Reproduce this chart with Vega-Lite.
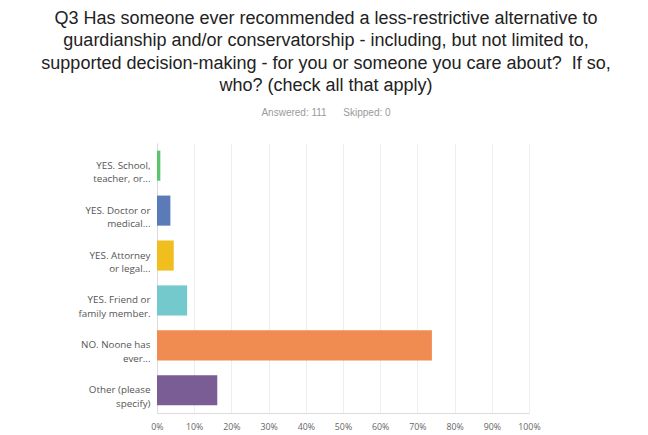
{
  "$schema": "https://vega.github.io/schema/vega-lite/v6.json",
  "autosize": {"type": "none"},
  "width": 372,
  "height": 270,
  "padding": {"left": 157, "top": 143, "right": 119, "bottom": 22},
  "background": "white",
  "title": {
    "text": ["Q3 Has someone ever recommended a less-restrictive alternative to", "guardianship and/or conservatorship - including, but not limited to,", "supported decision-making - for you or someone you care about?\u00a0\u00a0If so,", "who? (check all that apply)"],
    "subtitle": "\u00a0\u00a0\u00a0\u00a0\u00a0\u00a0\u00a0\u00a0\u00a0\u00a0\u00a0\u00a0\u00a0\u00a0Answered: 111\u00a0\u00a0\u00a0\u00a0\u00a0\u00a0Skipped: 0",
    "anchor": "middle",
    "frame": "group",
    "dx": -17,
    "offset": 25,
    "font": "Liberation Sans",
    "fontSize": 18,
    "fontWeight": "normal",
    "lineHeight": 22.5,
    "color": "#222222",
    "subtitleFont": "Liberation Sans",
    "subtitleFontSize": 10,
    "subtitleColor": "#9a9a9a",
    "subtitlePadding": 13
  },
  "data": {
    "values": [
      {"answer": "YES. School,|teacher, or...", "pct": 0.009, "order": 1},
      {"answer": "YES. Doctor or|medical...", "pct": 0.036, "order": 2},
      {"answer": "YES. Attorney|or legal...", "pct": 0.045, "order": 3},
      {"answer": "YES. Friend or|family member.", "pct": 0.081, "order": 4},
      {"answer": "NO. Noone has|ever...", "pct": 0.739, "order": 5},
      {"answer": "Other (please|specify)", "pct": 0.162, "order": 6}
    ]
  },
  "mark": {"type": "bar"},
  "encoding": {
    "y": {
      "field": "answer",
      "type": "nominal",
      "sort": {"field": "order"},
      "scale": {"paddingInner": 0.33, "paddingOuter": 0.17},
      "axis": {
        "title": null,
        "labelExpr": "split(datum.label, '|')",
        "labelFont": "Open Sans",
        "labelFontSize": 9.8,
        "labelColor": "#555555",
        "labelLineHeight": 13.5,
        "labelPadding": 7,
        "ticks": false,
        "domain": true,
        "domainColor": "#dcdcdc",
        "grid": false,
        "labelLimit": 200
      }
    },
    "x": {
      "field": "pct",
      "type": "quantitative",
      "scale": {"domain": [0, 1]},
      "axis": {
        "title": null,
        "format": ".0%",
        "values": [0, 0.1, 0.2, 0.3, 0.4, 0.5, 0.6, 0.7, 0.8, 0.9, 1],
        "labelFont": "Open Sans",
        "labelFontSize": 8.8,
        "labelColor": "#666666",
        "labelPadding": 9,
        "ticks": false,
        "domainColor": "#dcdcdc",
        "gridColor": "#eeeeee",
        "labelFlush": false
      }
    },
    "color": {
      "field": "answer",
      "type": "nominal",
      "sort": {"field": "order"},
      "scale": {"range": ["#5cc46f", "#5b7bb8", "#f0bf1f", "#73c9cc", "#f08c52", "#7a5d95"]},
      "legend": null
    }
  },
  "config": {
    "view": {"stroke": null}
  }
}
